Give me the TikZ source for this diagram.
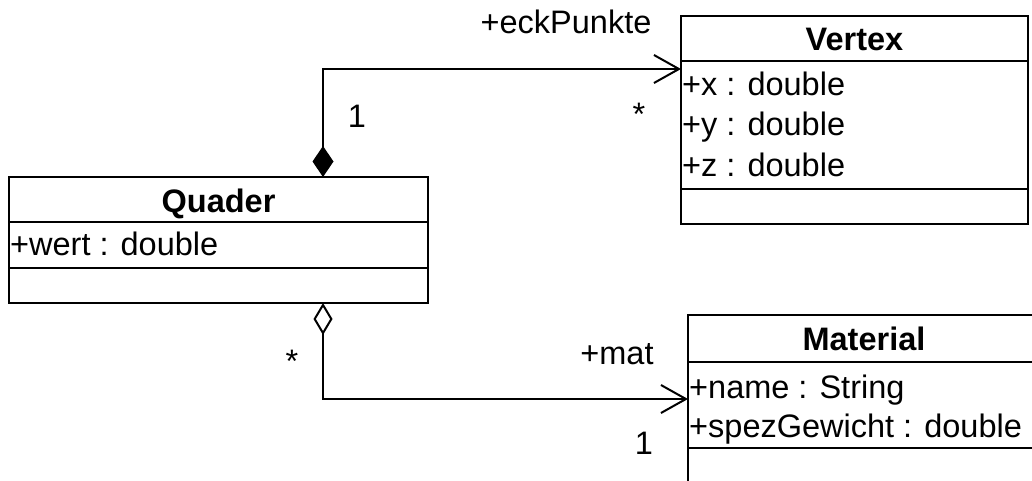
\documentclass[tikz,border=0pt]{standalone}
\usepackage{fontspec}
\setmainfont{Liberation Sans}
\usetikzlibrary{arrows.meta}
\tikzset{
  box/.style={draw, line width=2pt, inner sep=0pt},
  sepline/.style={line width=2pt},
  ttl/.style={font=\fontsize{32.5}{38}\selectfont\bfseries, inner sep=0pt, anchor=base},
  attr/.style={font=\fontsize{32.5}{38}\selectfont, inner sep=0pt, anchor=base west},
  lbl/.style={font=\fontsize{32.5}{38}\selectfont, inner sep=0pt, anchor=base},
  conn/.style={line width=2pt},
  openbarb/.tip={Straight Barb[length=25pt,width=28pt,line width=2pt]},
}
\begin{document}
\begin{tikzpicture}[x=1pt,y=-1pt]
\useasboundingbox (0,0) rectangle (1032,480);
% Quader
\node[box, minimum width=419pt, minimum height=126pt] (quader) at (218.5,240) {};
\draw[sepline] (9,222) -- (428,222);
\draw[sepline] (9,268) -- (428,268);
\node[ttl] (qt) at (218.5,212) {Quader};
\node[attr] (qa) at (10,255) {+wert : double};
% Vertex
\node[box, minimum width=347pt, minimum height=208pt] (vertex) at (854.5,120) {};
\draw[sepline] (681,61) -- (1028,61);
\draw[sepline] (681,189) -- (1028,189);
\node[ttl] (vt) at (854.5,50) {Vertex};
\node[attr] (vx) at (682,95) {+x : double};
\node[attr] (vy) at (682,135.5) {+y : double};
\node[attr] (vz) at (682,176) {+z : double};
% Material
\node[box, minimum width=352pt, minimum height=200pt] (material) at (864,415) {};
\draw[sepline] (688,362) -- (1040,362);
\draw[sepline] (688,448) -- (1040,448);
\node[ttl] (mt) at (864,350) {Material};
\node[attr] (mn) at (689,398) {+name : String};
\node[attr] (ms) at (689,437) {+spezGewicht : double};
% connectors
\coordinate (qtop) at (323,177);
\coordinate (qbot) at (323,303);
\coordinate (vin) at (681,69);
\coordinate (min) at (688,399);
\draw[conn, {Diamond[length=31pt,width=21pt]}-{openbarb}] (qtop) |- (vin);
\draw[conn, {Diamond[open,length=32pt,width=19pt,fill=white]}-{openbarb}] (qbot) |- (min);
% labels
\node[lbl] (l1) at (566,33) {+eckPunkte};
\node[lbl] (l2) at (639,125) {*};
\node[lbl] (l3) at (357,127) {1};
\node[lbl] (l4) at (292,372) {*};
\node[lbl] (l5) at (617,364) {+mat};
\node[lbl] (l6) at (644,454) {1};
\end{tikzpicture}
\end{document}
